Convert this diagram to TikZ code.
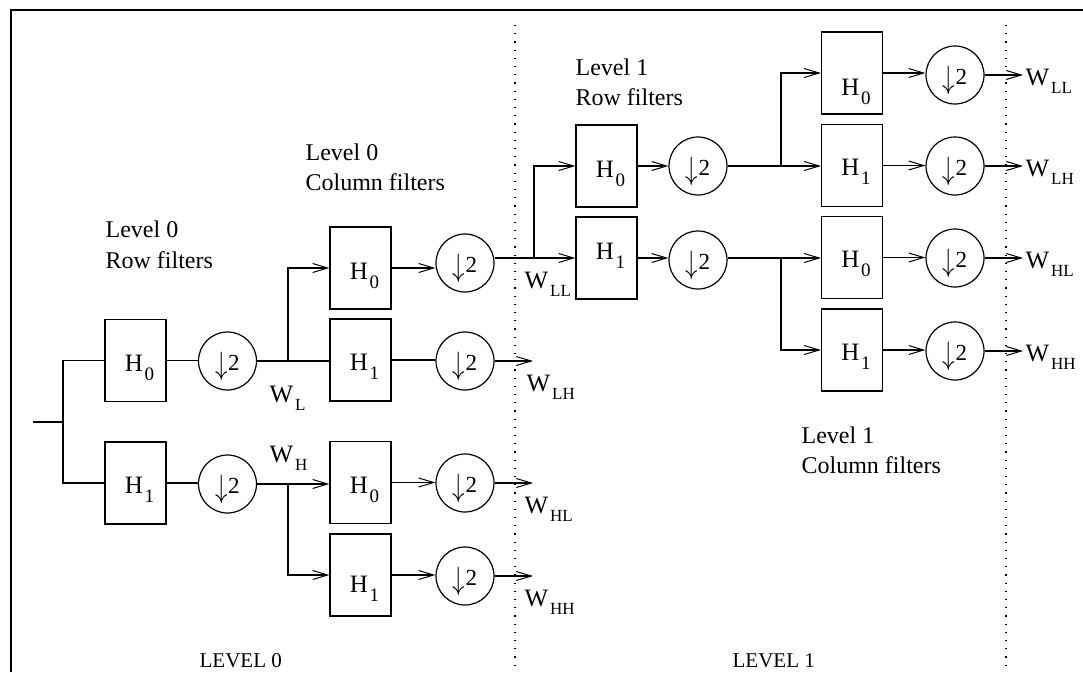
\documentclass[tikz,border=0pt]{standalone}
\usepackage{fontspec}
\usepackage{graphicx}
\setmainfont{Liberation Serif}
\usetikzlibrary{arrows.meta,calc}
\newcommand{\Hsub}[1]{{\fontsize{25}{25}\selectfont H\kern1.5pt\raisebox{-9pt}{\fontsize{19}{19}\selectfont #1}}}
\newcommand{\Wsub}[1]{{\fontsize{25}{25}\selectfont W\kern2pt\raisebox{-8pt}{\fontsize{17}{17}\selectfont #1}}}
\newcommand{\dtwo}{{\fontsize{24}{24}\selectfont\raisebox{-4pt}{\scalebox{1}[1.3]{$\downarrow$}}\kern0.5pt\fontsize{23}{23}\selectfont 2}}
\begin{document}
\begin{tikzpicture}[x=1pt,y=-1pt, line width=1.2pt,
  fbox/.style={draw, minimum width=61pt, minimum height=82pt, inner sep=0pt},
  dsc/.style={draw, circle, minimum size=58pt, inner sep=0pt},
  lab/.style={inner sep=0pt, anchor=base},
  txt/.style={inner sep=0pt, anchor=base west, font=\fontsize{24}{24}\selectfont},
  big/.style={inner sep=0pt, anchor=base west, font=\fontsize{21}{21}\selectfont},
  wl/.style={inner sep=0pt, anchor=base west},
  arr/.style={-{Straight Barb[length=15pt,width=9pt,line width=1pt]}},
  sep/.style={dash pattern=on 1.2pt off 7pt, line width=1.2pt}]
\useasboundingbox (0,0) rectangle (1083,672);
% frame and separators
\draw (11,672) -- (11,10) -- (1083,10);
\draw[sep] (515,25) -- (515,672);
\draw[sep] (1006,25) -- (1006,672);
% level 0 row filters
\coordinate (in) at (33,422);
\coordinate (j0) at (63,422);
\node[fbox] (h0r) at (135.5,360.5) {};
\node[fbox] (h1r) at (135.5,483) {};
\node[dsc] (c0r) at (227.5,361) {};
\node[dsc] (c1r) at (227.5,484) {};
% level 0 column filters
\coordinate (bL) at (288,361);
\coordinate (bH) at (288,484);
\node[fbox] (hLL0) at (360.5,268) {};
\node[fbox] (hLH0) at (360.5,360) {};
\node[fbox] (hHL0) at (360.5,482.5) {};
\node[fbox] (hHH0) at (360.5,575) {};
\node[dsc] (cLL0) at (465,263) {};
\node[dsc] (cLH0) at (465,361) {};
\node[dsc] (cHL0) at (465,483) {};
\node[dsc] (cHH0) at (465,576) {};
\coordinate (oLH0) at (533,361);
\coordinate (oHL0) at (533,483);
\coordinate (oHH0) at (533,576);
% level 1 row filters
\coordinate (bLL) at (534,258);
\node[fbox] (h0r1) at (606.5,166) {};
\node[fbox] (h1r1) at (606.5,258) {};
\node[dsc] (c0r1) at (698,166) {};
\node[dsc] (c1r1) at (698,260) {};
\coordinate (b1L) at (781,166);
\coordinate (b1H) at (781,258);
% level 1 column filters
\node[fbox] (hLL1) at (852,73) {};
\node[fbox] (hLH1) at (852,165.5) {};
\node[fbox] (hHL1) at (852,257.5) {};
\node[fbox] (hHH1) at (852,350) {};
\node[dsc] (cLL1) at (955,75) {};
\node[dsc] (cLH1) at (955,166) {};
\node[dsc] (cHL1) at (955,258) {};
\node[dsc] (cHH1) at (955,351) {};
\coordinate (oLL1) at (1023,75);
\coordinate (oLH1) at (1023,166);
\coordinate (oHL1) at (1023,258);
\coordinate (oHH1) at (1023,351);
% connectors level 0
\draw (in) -- (j0);
\draw (h0r.west) -| (j0) |- (h1r.west);
\draw (h0r.east) -- (h0r.east -| c0r.west);
\draw (h1r.east) -- (h1r.east -| c1r.west);
\draw (c0r.east) -- (bL);
\draw (bL) -- (bL -| hLH0.west);
\draw[arr] (bL) |- (hLL0.west);
\draw (c1r.east) -- (bH);
\draw[arr] (bH) -- (bH -| hHL0.west);
\draw[arr] (bH) |- (hHH0.west);
\draw[arr] (hLL0.east) -- (hLL0.east -| cLL0.west);
\draw (hLH0.east) -- (hLH0.east -| cLH0.west);
\draw[arr] (hHL0.east) -- (hHL0.east -| cHL0.west);
\draw[arr] (hHH0.east) -- (hHH0.east -| cHH0.west);
\draw[arr] (cLH0.east) -- (oLH0);
\draw[arr] (cHL0.east) -- (oHL0);
\draw[arr] (cHH0.east) -- (oHH0);
% connectors level 1
\draw (cLL0.east |- bLL) -- (bLL);
\draw[arr] (bLL) |- (h0r1.west);
\draw[arr] (bLL) -- (h1r1.west);
\draw[arr] (h0r1.east) -- (h0r1.east -| c0r1.west);
\draw[arr] (h1r1.east) -- (h1r1.east -| c1r1.west);
\draw (c0r1.east) -- (b1L);
\draw[arr] (b1L) |- (hLL1.west);
\draw[arr] (b1L) -- (b1L -| hLH1.west);
\draw (c1r1.east |- b1H) -- (b1H);
\draw[arr] (b1H) -- (b1H -| hHL1.west);
\draw[arr] (b1H) |- (hHH1.west);
\draw[arr] (hLL1.east) -- (hLL1.east -| cLL1.west);
\draw[arr] (hLH1.east) -- (hLH1.east -| cLH1.west);
\draw[arr] (hHL1.east) -- (hHL1.east -| cHL1.west);
\draw[arr] (hHH1.east) -- (hHH1.east -| cHH1.west);
\draw[arr] (cLL1.east) -- (oLL1);
\draw[arr] (cLH1.east) -- (oLH1);
\draw[arr] (cHL1.east) -- (oHL1);
\draw[arr] (cHH1.east) -- (oHH1);
% filter labels
\node[lab] at ($(h0r.center)+(4,11)$) {\Hsub0};
\node[lab] at ($(h1r.center)+(4,10)$) {\Hsub1};
\node[lab] at ($(hLL0.center)+(4,11)$) {\Hsub0};
\node[lab] at ($(hLH0.center)+(4,10)$) {\Hsub1};
\node[lab] at ($(hHL0.center)+(4,11)$) {\Hsub0};
\node[lab] at ($(hHH0.center)+(4,17)$) {\Hsub1};
\node[lab] at ($(h0r1.center)+(4,11)$) {\Hsub0};
\node[lab] at ($(h1r1.center)+(4,1)$) {\Hsub1};
\node[lab] at ($(hLL1.center)+(4,22)$) {\Hsub0};
\node[lab] at ($(hLH1.center)+(4,10)$) {\Hsub1};
\node[lab] at ($(hHL1.center)+(4,10)$) {\Hsub0};
\node[lab] at ($(hHH1.center)+(4,10)$) {\Hsub1};
% downsampler labels
\foreach \c in {c0r,c1r,cLL0,cLH0,cHL0,cHH0,c0r1,c1r1,cLL1,cLH1,cHL1,cHH1}
  \node[lab] at ($(\c.center)+(0,9)$) {\dtwo};
% signal labels
\node[wl] at (269,402) {\Wsub{L}};
\node[wl] at (269,462) {\Wsub{H}};
\node[wl] at (524,288) {\Wsub{LL}};
\node[wl] at (526,391) {\Wsub{LH}};
\node[wl] at (524,513) {\Wsub{HL}};
\node[wl] at (524,606) {\Wsub{HH}};
\node[wl] at (1025,85) {\Wsub{LL}};
\node[wl] at (1025,176) {\Wsub{LH}};
\node[wl] at (1025,268) {\Wsub{HL}};
\node[wl] at (1025,361) {\Wsub{HH}};
% stage titles
\node[txt] (t1) at (105,237) {Level 0};
\node[txt] (t2) at (105,268) {Row filters};
\node[txt] (t3) at (305,160) {Level 0};
\node[txt] (t4) at (305,190) {Column filters};
\node[txt] (t5) at (575,75) {Level 1};
\node[txt] (t6) at (575,105) {Row filters};
\node[txt] (t7) at (801,443) {Level 1};
\node[txt] (t8) at (801,473) {Column filters};
\node[big] (l0) at (199,667) {LEVEL 0};
\node[big] (l1) at (732,667) {LEVEL 1};
\end{tikzpicture}
\end{document}
